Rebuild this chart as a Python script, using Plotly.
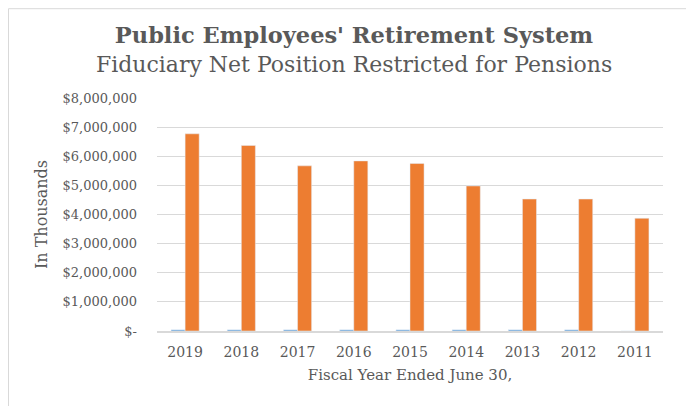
import plotly.graph_objects as go

years = ["2019", "2018", "2017", "2016", "2015", "2014", "2013", "2012", "2011"]
blue_values = [40000, 40000, 40000, 40000, 40000, 40000, 40000, 40000, 0]
orange_values = [6770000, 6370000, 5670000, 5840000, 5750000, 4980000, 4530000, 4530000, 3870000]
y_tick_vals = [0, 1000000, 2000000, 3000000, 4000000, 5000000, 6000000, 7000000, 8000000]
y_tick_text = ["$-", "$1,000,000", "$2,000,000", "$3,000,000", "$4,000,000",
               "$5,000,000", "$6,000,000", "$7,000,000", "$8,000,000"]

FONT = "Century Schoolbook, 'DejaVu Serif', serif"
TXT = "#595959"

fig = go.Figure()
fig.add_trace(go.Bar(x=years, y=blue_values, marker_color="#5b9bd5", showlegend=False))
fig.add_trace(go.Bar(x=years, y=orange_values, marker_color="#ed7d31", showlegend=False))

W, H = 694, 406
L, R, T, B = 149, 39, 90, 82.5
pw, ph = W - L - R, H - T - B

def px(x):
    return (x - L) / pw

def py(y):
    return (H - B - y) / ph

fig.update_layout(
    width=W, height=H,
    margin=dict(l=L, r=R, t=T, b=B, autoexpand=False),
    paper_bgcolor="white", plot_bgcolor="white",
    barmode="group", bargap=0.5, bargroupgap=0,
    font=dict(family=FONT, color=TXT, size=14),
    title=dict(
        text="<b>Public Employees' Retirement System</b><br><span style='font-size:22px'>Fiduciary Net Position Restricted for Pensions</span>",
        x=0.4986, xref="container", xanchor="center",
        y=0.915, yref="container", yanchor="top",
        font=dict(family=FONT, size=22.5, color=TXT),
    ),
    xaxis=dict(
        automargin=False,
        showgrid=False, showline=True, linecolor="#d9d9d9", linewidth=1.5,
        ticks="", ticklabelstandoff=7, tickfont=dict(size=14, color=TXT),
        title=dict(text="Fiscal Year Ended June 30,", font=dict(size=15, color=TXT), standoff=11),
    ),
    yaxis=dict(
        automargin=False,
        range=[0, 8000000], tickvals=y_tick_vals, ticktext=y_tick_text,
        showgrid=True, gridcolor="#d9d9d9", gridwidth=1, zeroline=False,
        ticks="", ticklabelstandoff=19, tickfont=dict(size=13, color=TXT),
        title=dict(text="In Thousands", font=dict(size=16, color=TXT), standoff=10),
    ),
    shapes=[dict(type="rect", xref="paper", yref="paper",
                 x0=px(0.5), x1=px(682), y0=py(420), y1=py(0.5),
                 line=dict(color="#d9d9d9", width=1), layer="below")],
)

fig.write_html("out.html")
